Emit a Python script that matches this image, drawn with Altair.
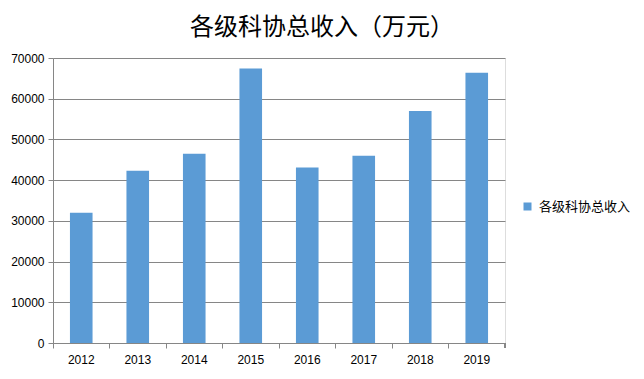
import altair as alt
import pandas as pd

years = ["2012", "2013", "2014", "2015", "2016", "2017", "2018", "2019"]
income = [32000, 42300, 46500, 67400, 43100, 46000, 57000, 66400]
series_name = "各级科协总收入"
title_text = "各级科协总收入（万元）"

df = pd.DataFrame({"year": years, "income": income, "series": [series_name] * len(years)})

W, H = 452, 285
grid_color = "#868686"
font = "Liberation Sans"

x_scale = alt.Scale(paddingInner=0, paddingOuter=0)

bars = alt.Chart(df).mark_bar(width=alt.RelativeBandSize(0.4), color="#5B9BD5").encode(
    x=alt.X("year:N", scale=x_scale, sort=years,
            axis=alt.Axis(orient="bottom", title=None, labelAngle=0, ticks=False, domain=False,
                          labelPadding=11, labelFontSize=12, labelFont=font, labelColor="#000000")),
    y=alt.Y("income:Q", scale=alt.Scale(domain=[0, 70000]),
            axis=alt.Axis(title=None, values=[0, 10000, 20000, 30000, 40000, 50000, 60000, 70000],
                          format="d", grid=True, gridColor=grid_color, domainColor=grid_color,
                          tickColor=grid_color, tickSize=5, labelPadding=4, labelFontSize=12,
                          labelFont=font, labelColor="#000000")),
    fill=alt.Fill("series:N", scale=alt.Scale(range=["#5B9BD5"]),
                  legend=alt.Legend(title=None, orient="none", legendX=468, legendY=142,
                                    symbolType="square", symbolSize=64, symbolStrokeWidth=0,
                                    labelFontSize=13, labelFont="Noto Sans CJK SC",
                                    labelColor="#000000", labelOffset=5)),
)

ticks_axis = alt.Chart(df).mark_bar(opacity=0).encode(
    x=alt.X("year:N", scale=x_scale, sort=years,
            axis=alt.Axis(orient="bottom", title=None, labels=False, bandPosition=0,
                          ticks=True, tickSize=5, tickColor=grid_color, domainColor=grid_color)),
    y=alt.Y("income:Q"),
)

end_tick = alt.Chart(df).mark_rule(color=grid_color, strokeWidth=1).encode(
    x=alt.value(W), y=alt.value(H), y2=alt.value(H + 5)
)

chart = alt.layer(bars, ticks_axis, end_tick).resolve_axis(x="independent").properties(
    width=W, height=H,
    padding={"left": 45, "top": 50, "right": 131, "bottom": 28},
    autosize=alt.AutoSizeParams(type="none"),
    title=alt.TitleParams(title_text, font="Noto Sans CJK SC", fontSize=24, fontWeight="normal",
                          color="#000000", anchor="middle", dx=43, offset=12),
).configure_view(stroke=None).configure(background="white")

chart.save("out.html", embed_options={"renderer": "svg", "actions": False})
